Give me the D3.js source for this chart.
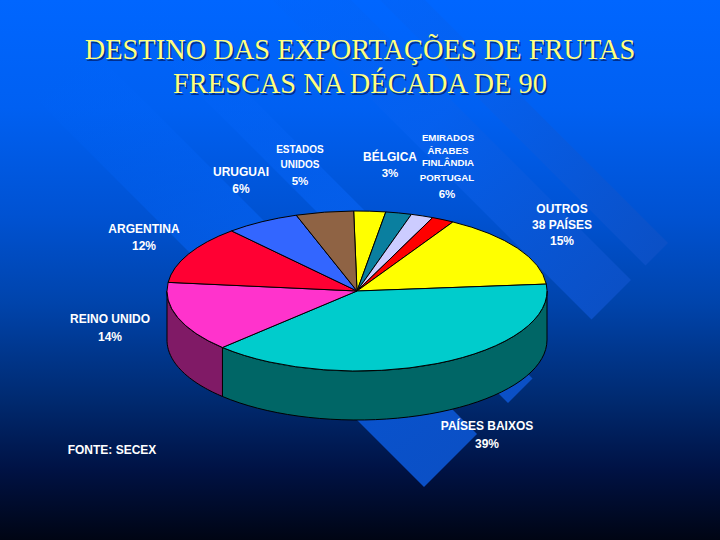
<!DOCTYPE html>
<html>
<head>
<meta charset="utf-8">
<script src="https://cdn.jsdelivr.net/npm/d3@7"></script>
<style>
  html, body { margin: 0; padding: 0; background: #000; }
  svg { display: block; }
  text { font-family: "Liberation Sans", Arial, sans-serif; fill: #fff; font-weight: bold; text-anchor: middle; }
  .titulo { font-family: "Liberation Serif", serif; font-weight: normal; font-size: 28.4px; fill: #ffff80; text-shadow: 1.5px 1.5px 0 #002f8f; }
  path.fatia { stroke: #000; stroke-width: 1px; vector-effect: non-scaling-stroke; }
</style>
</head>
<body>
<figure id="pizza" style="margin:0"></figure>
<script>
// valores (% das exportacoes), fatias em sentido horario
const destinos = ["Bélgica", "Emirados Árabes", "Finlândia", "Portugal", "Outros", "Países Baixos", "Reino Unido", "Argentina", "Uruguai", "Estados Unidos"];
const valores = [2.7, 2.2, 1.9, 1.9, 15.2, 38.9, 14.2, 11.8, 6.3, 4.9];
const cores = ["#ffff00", "#0a7f9f", "#ccccff", "#ff0000", "#ffff00", "#00cccc", "#ff33cc", "#ff0033", "#3366ff", "#8f6344"];
const coresLado = ["#808000", "#05404f", "#666680", "#800000", "#808000", "#006666", "#801a66", "#80001a", "#1a3380", "#483222"];

const tituloLinhas = ["DESTINO DAS EXPORTAÇÕES DE FRUTAS", "FRESCAS NA DÉCADA DE 90"];
const rotulos = [
  "URUGUAI", "6%",
  "ESTADOS", "UNIDOS", "5%",
  "BÉLGICA", "3%",
  "EMIRADOS", "ÁRABES", "FINLÂNDIA", "PORTUGAL", "6%",
  "OUTROS", "38 PAÍSES", "15%",
  "ARGENTINA", "12%",
  "REINO UNIDO", "14%",
  "PAÍSES BAIXOS", "39%",
  "FONTE: SECEX"
];

// layout dos rotulos: [x, y, tamanho]
const rotuloPos = [
  [241, 176, 12], [241, 193, 12],
  [300, 153, 10], [300, 168, 10], [300, 185, 11.5],
  [390, 161, 12], [390, 177, 11.5],
  [448, 141, 9.7], [448, 154, 9.7], [448, 166, 9.7], [447, 181, 9.7], [447, 198, 11.5],
  [562, 212.5, 12], [562, 229, 12], [562, 245, 12],
  [144, 233, 12], [144, 250, 12],
  [110, 323, 12], [110, 341, 12],
  [487, 429.5, 12], [487, 448, 12],
  [112, 453.5, 12]
];

const width = 720, height = 540;
const cx = 357, cy = 291, rx = 190, ry = 80, altura = 49;
const inicio = -1 * Math.PI / 180;

const svg = d3.select("#pizza").append("svg").attr("width", width).attr("height", height);
const defs = svg.append("defs");

// fundo
const fundo = defs.append("linearGradient").attr("id", "fundo")
  .attr("x1", 0).attr("y1", 0).attr("x2", 0).attr("y2", 1);
[[0, "#0066ff"], [0.2, "#0060f2"], [0.4, "#0052d2"], [0.56, "#0044ac"], [0.74, "#002a70"], [0.87, "#001244"], [1, "#000514"]]
  .forEach(s => fundo.append("stop").attr("offset", s[0]).attr("stop-color", s[1]));
svg.append("rect").attr("width", width).attr("height", height).attr("fill", "url(#fundo)");

// faixas diagonais do modelo do slide
const faixaCor = defs.append("linearGradient").attr("id", "faixa")
  .attr("gradientUnits", "userSpaceOnUse")
  .attr("x1", 455).attr("y1", 455).attr("x2", 60).attr("y2", 60);
[[0, "#0b50c6", 1], [0.45, "#0660ee", 0.8], [1, "#0066ff", 0]]
  .forEach(s => faixaCor.append("stop").attr("offset", s[0]).attr("stop-color", s[1]).attr("stop-opacity", s[2]));

const faixas = [[-425, -380], [-351, -272], [-154, -105], [-43, 63]];
const fim = 911, comeco = 100;
svg.append("g").selectAll("path").data(faixas).join("path")
  .attr("fill", "url(#faixa)")
  .attr("d", d => {
    const p = d3.path();
    p.moveTo((fim - d[0]) / 2, (fim + d[0]) / 2);
    p.lineTo((fim - d[1]) / 2, (fim + d[1]) / 2);
    p.lineTo((comeco - d[1]) / 2, (comeco + d[1]) / 2);
    p.lineTo((comeco - d[0]) / 2, (comeco + d[0]) / 2);
    p.closePath();
    return p.toString();
  });

// pizza 3D
const pie = d3.pie().sort(null).value(d => d).startAngle(inicio).endAngle(inicio + 2 * Math.PI);
const fatias = pie(valores);
const g = svg.append("g").attr("transform", "translate(" + cx + "," + cy + ")");

// lado visivel: so a frente da elipse (90 a 270 graus)
const ladoX = a => rx * Math.sin(a);
const ladoY = a => -ry * Math.cos(a);
const lado = d => {
  const a0 = Math.max(d.startAngle, Math.PI / 2), a1 = Math.min(d.endAngle, 3 * Math.PI / 2);
  if (a1 <= a0) return null;
  const angulos = d3.range(0, 41).map(i => a0 + (a1 - a0) * i / 40);
  const cima = angulos.map(a => [ladoX(a), ladoY(a)]);
  const baixo = angulos.slice().reverse().map(a => [ladoX(a), ladoY(a) + altura]);
  return d3.line()(cima.concat(baixo)) + "Z";
};
g.append("g").selectAll("path").data(fatias).join("path")
  .attr("class", "fatia")
  .attr("d", lado)
  .attr("fill", (d, i) => coresLado[i]);

const arco = d3.arc().innerRadius(0).outerRadius(rx);
g.append("g").attr("transform", "scale(1," + (ry / rx) + ")")
  .selectAll("path").data(fatias).join("path")
  .attr("class", "fatia")
  .attr("d", arco)
  .attr("fill", (d, i) => cores[i])
  .append("title").text((d, i) => destinos[i]);

// titulo
svg.selectAll("text.titulo").data(tituloLinhas).join("text")
  .attr("class", "titulo")
  .attr("x", 360)
  .attr("y", (d, i) => 59 + i * 34)
  .text(d => d);

// rotulos
svg.append("g").selectAll("text").data(rotulos).join("text")
  .attr("x", (d, i) => rotuloPos[i][0])
  .attr("y", (d, i) => rotuloPos[i][1])
  .style("font-size", (d, i) => rotuloPos[i][2] + "px")
  .text(d => d);
</script>
</body>
</html>
